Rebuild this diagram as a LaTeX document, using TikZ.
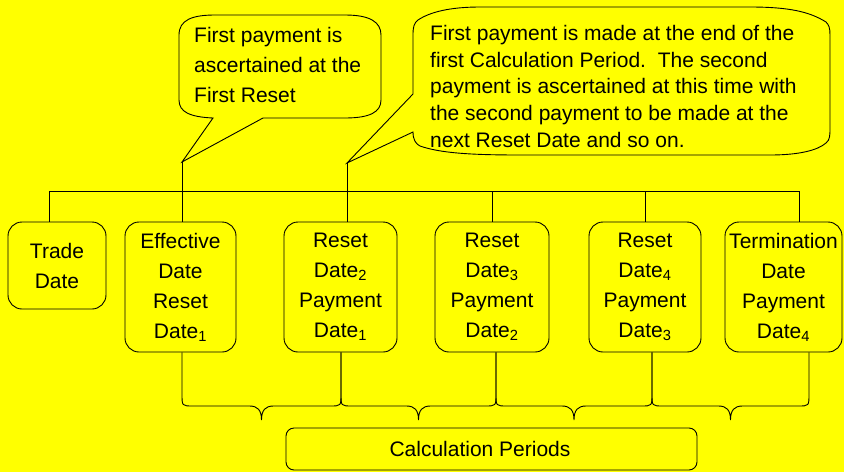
\documentclass[tikz,border=0pt]{standalone}
\usepackage{fontspec}
\setmainfont{Liberation Sans}
\usetikzlibrary{calc}
\definecolor{bgyellow}{RGB}{255,255,0}
\newcommand{\calcbrace}[2]{%
 \draw[line] let \p1=(#1), \p2=(#2), \n1={(\x1+\x2)/2} in
  (#1) -- (\x1,394) .. controls (\x1,406) .. (\x1+11,406) -- (\n1-12,406)
  .. controls (\n1-4,406) and (\n1,410) .. (\n1,420)
  .. controls (\n1,410) and (\n1+4,406) .. (\n1+12,406) -- (\x2-11,406)
  .. controls (\x2,406) .. (\x2,394) -- (#2);}
\begin{document}
\begin{tikzpicture}[x=1pt,y=-1pt,
 line/.style={draw=black,line width=0.9pt},
 datebox/.style={draw=black,line width=0.9pt,rounded corners=14pt,align=center,inner sep=2pt,font=\fontsize{21}{30}\selectfont},
 callout/.style={draw=black,line width=0.9pt,fill=bgyellow},
 txt/.style={align=left,inner sep=0pt,anchor=north west}]
\fill[bgyellow] (0,0) rectangle (844,472);
\useasboundingbox (0,0) rectangle (844,472);

\node[datebox,minimum width=98,minimum height=87] (trade) at (57,265.5) {Trade\\Date};
\node[datebox,minimum width=111,minimum height=130] (eff) at (180.5,287) {Effective\\Date\\Reset\\Date\textsubscript{1}};
\node[datebox,minimum width=113,minimum height=130] (r2) at (340.5,287) {Reset\\Date\textsubscript{2}\\Payment\\Date\textsubscript{1}};
\node[datebox,minimum width=114,minimum height=130] (r3) at (492,287) {Reset\\Date\textsubscript{3}\\Payment\\Date\textsubscript{2}};
\node[datebox,minimum width=112,minimum height=130] (r4) at (645,287) {Reset\\Date\textsubscript{4}\\Payment\\Date\textsubscript{3}};
\node[datebox,minimum width=117,minimum height=130,inner sep=1pt] (term) at (783.5,287) {Termination\\Date\\Payment\\Date\textsubscript{4}};

\coordinate (tip1) at (182,162);
\coordinate (tip2) at (347,163);
\draw[callout] (tip1) -- (213,118) .. controls (190,117) and (179,112) .. (179,100) -- (179,35) .. controls (179,20) and (192,15) .. (215,15) -- (345,15) .. controls (370,15) and (381,22) .. (381,35) -- (381,100) .. controls (381,112) and (370,118) .. (345,118) -- (263,118) -- cycle;
\node[txt,font=\fontsize{21}{30}\selectfont] (c1text) at (194,27) {First payment is\\ascertained at the\\First Reset};

\draw[callout] (tip2) -- (413,132) .. controls (413,140) and (416,144) .. (420,146) .. controls (440,153) and (470,155) .. (520,155) -- (770,155) .. controls (800,155) and (818,150) .. (826,143) .. controls (830,140) and (830,135) .. (830,128) -- (830,35) .. controls (830,28) and (829,25) .. (826,22) .. controls (810,12) and (790,7) .. (750,7) -- (480,7) .. controls (450,7) and (430,12) .. (418,20) .. controls (414,23) and (413,27) .. (413,35) -- (413,94) -- cycle;
\node[txt,font=\fontsize{21}{26.75}\selectfont] (c2text) at (430,25) {First payment is made at the end of the\\first Calculation Period.\ \ The second\\payment is ascertained at this time with\\the second payment to be made at the\\next Reset Date and so on.};

\coordinate (busL) at (49,191);
\coordinate (busR) at (799,191);
\draw[line] (busL) -- (busR);
\draw[line] (busL) -- (busL |- trade.north);
\draw[line] (busR) -- (busR |- term.north);
\draw[line] (tip1) -- (tip1 |- eff.north);
\draw[line] (tip2) -- (tip2 |- r2.north);
\draw[line] (r3.north) -- (r3.north |- busL);
\draw[line] (r4.north) -- (r4.north |- busL);

\coordinate (b1) at ([xshift=1.5pt]eff.south);
\coordinate (b2) at ([xshift=0.5pt]r2.south);
\coordinate (b3) at ([xshift=4pt]r3.south);
\coordinate (b4) at ([xshift=7pt]r4.south);
\coordinate (b5) at ([xshift=25.5pt]term.south);
\calcbrace{b1}{b2}
\calcbrace{b2}{b3}
\calcbrace{b3}{b4}
\calcbrace{b4}{b5}

\node[draw,line width=0.9pt,rounded corners=8pt,minimum width=411,minimum height=42,inner sep=0pt] (calcbox) at (491.5,449) {};
\node[font=\fontsize{21}{25}\selectfont,inner sep=0pt] (calctext) at (480,449) {Calculation Periods};
\end{tikzpicture}
\end{document}
